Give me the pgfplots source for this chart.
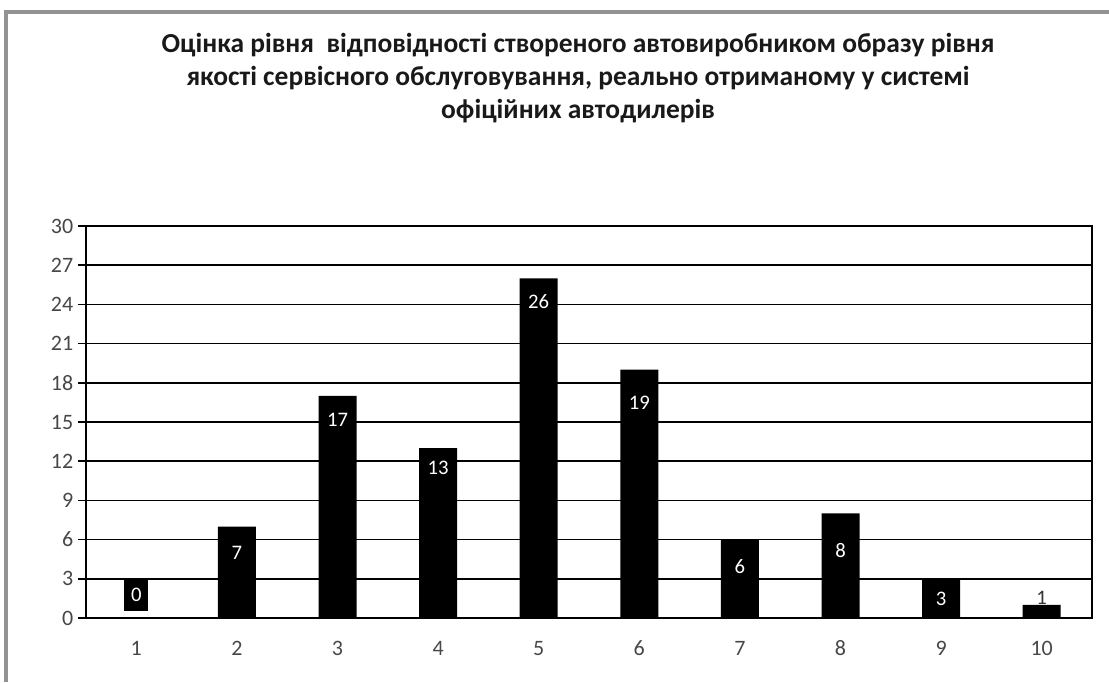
\documentclass[border=0pt]{standalone}
\usepackage{fontspec}
\setmainfont{Carlito}
\usepackage{pgfplots}
\usepackage{pgfplotstable}
\pgfplotsset{compat=1.18}
\pgfplotstableread{
x y
1 0
2 7
3 17
4 13
5 26
6 19
7 6
8 8
9 3
10 1
}\data
\pgfplotstableread{
x ypos lab
2 4.97 7
3 15.15 17
4 11.48 13
5 24.18 26
6 16.45 19
7 3.9 6
8 5.2 8
9 1.45 3
}\inside
\pgfplotstableread{
x ypos lab
1 1.76 0
}\zero
\pgfplotstableread{
x ypos lab
10 1.53 1
}\small
\newcommand{\tickfont}{\fontsize{16.5pt}{18pt}\selectfont}
\newcommand{\labfont}{\fontsize{15.5pt}{17pt}\selectfont}
\begin{document}
\begin{tikzpicture}
\draw[gray!85, line width=2.6pt] (4.5pt,0pt) -- (4.5pt,502.5pt) -- (840pt,502.5pt);
\node[align=center, font=\fontsize{20.6pt}{24.9pt}\selectfont\bfseries, text=black!90] at (433.5pt,453pt)
 {Оцінка рівня\ \ відповідності створеного автовиробником образу рівня\\якості сервісного обслуговування, реально отриманому у системі\\офіційних автодилерів};
\begin{axis}[
 at={(64.5pt,48pt)}, anchor=south west,
 scale only axis, width=754.5pt, height=294pt,
 xmin=0.5, xmax=10.5, ymin=0, ymax=30,
 ytick={0,3,...,30}, xtick={1,...,10},
 xticklabels={1,2,3,4,5,6,7,8,9,10},
 yticklabels={0,3,6,9,12,15,18,21,24,27,30},
 minor xtick={0.5,1.5,...,10.5},
 xtick style={draw=none},
 minor tick length=5pt, major tick length=6pt,
 tick align=outside, xtick pos=bottom, ytick pos=left,
 ymajorgrids, grid style={black, line width=1.3pt},
 axis line style={black, line width=1.3pt},
 every tick/.style={black, line width=1.2pt},
 minor x tick style={black, line width=1.2pt},
 ytick style={black, line width=1.2pt},
 yticklabel style={font=\tickfont, text=black!72},
 xticklabel style={font=\tickfont, text=black!72, text height=11pt, text depth=0pt, yshift=-7.5pt},
]
\addplot[ybar, bar width=28.5pt, fill=black, draw=none] table[x=x,y=y]{\data};
\addplot[draw=none, nodes near coords, point meta=explicit symbolic,
 nodes near coords style={anchor=center, text=white, font=\labfont}]
 table[x=x,y=ypos,meta=lab]{\inside};
\addplot[draw=none, nodes near coords, point meta=explicit symbolic,
 nodes near coords style={anchor=center, fill=black, text=white, minimum width=18pt, minimum height=24pt, inner sep=0pt, font=\labfont}]
 table[x=x,y=ypos,meta=lab]{\zero};
\addplot[draw=none, nodes near coords, point meta=explicit symbolic,
 nodes near coords style={anchor=center, text=black!80, font=\labfont}]
 table[x=x,y=ypos,meta=lab]{\small};
\end{axis}
\pgfresetboundingbox
\path[use as bounding box] (0pt,0pt) rectangle (831.75pt,511.5pt);
\end{tikzpicture}
\end{document}
